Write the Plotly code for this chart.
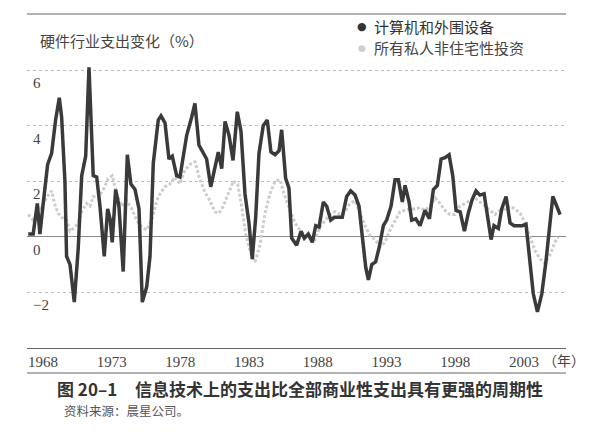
import plotly.graph_objects as go

# 计算机和外围设备 (year, % change)
hw_years = [1966.93, 1967.29, 1967.59, 1967.78, 1968.02, 1968.34, 1968.63, 1968.92, 1969.19, 1969.36,
            1969.60, 1969.72, 1969.97, 1970.28, 1970.57, 1970.82, 1971.11, 1971.35, 1971.66, 1971.91,
            1972.15, 1972.46, 1972.71, 1972.90, 1973.04, 1973.29, 1973.53, 1973.84, 1974.14, 1974.40,
            1974.70, 1974.99, 1975.23, 1975.55, 1975.79, 1976.03, 1976.39, 1976.59, 1976.88, 1977.17,
            1977.41, 1977.73, 1977.97, 1978.46, 1978.82, 1979.06, 1979.35, 1979.67, 1979.91, 1980.21,
            1980.47, 1980.76, 1981.01, 1981.25, 1981.54, 1981.83, 1982.14, 1982.41, 1982.70, 1982.99,
            1983.23, 1983.48, 1983.72, 1984.03, 1984.32, 1984.59, 1984.89, 1985.18, 1985.37, 1985.66,
            1985.90, 1986.10, 1986.46, 1986.78, 1987.02, 1987.31, 1987.60, 1987.85, 1988.09, 1988.40,
            1988.65, 1988.94, 1989.20, 1989.49, 1989.78, 1990.10, 1990.39, 1990.71, 1991.00, 1991.24,
            1991.49, 1991.68, 1991.93, 1992.21, 1992.48, 1992.77, 1993.01, 1993.33, 1993.62, 1993.86,
            1994.15, 1994.35, 1994.64, 1994.83, 1995.13, 1995.44, 1995.80, 1996.12, 1996.41, 1996.70,
            1996.97, 1997.26, 1997.55, 1997.82, 1998.06, 1998.36, 1998.67, 1998.95, 1999.24, 1999.51,
            1999.80, 2000.10, 2000.37, 2000.61, 2000.82, 2001.14, 2001.38, 2001.70, 2001.99, 2002.28,
            2002.59, 2002.88, 2003.15, 2003.44, 2003.68, 2003.98, 2004.30, 2004.61, 2004.85, 2005.10,
            2005.39, 2005.63]
hw_change = [0.1, 0.1, 1.2, 0.1, 1.2, 2.6, 3.0, 4.2, 5.0, 4.3,
             2.0, -0.7, -1.0, -2.35, -0.4, 2.2, 2.9, 6.1, 2.2, 2.15,
             1.1, -0.7, 1.0, 0.6, -0.2, 1.7, 1.1, -1.25, 2.95, 1.9,
             1.7, 1.0, -2.35, -1.8, -0.7, 2.65, 4.2, 4.35, 4.1, 2.8,
             2.9, 2.2, 2.15, 3.65, 4.3, 4.8, 3.3, 3.0, 2.8, 1.8,
             2.35, 3.05, 2.45, 4.15, 3.65, 2.75, 4.5, 3.8, 1.55, 0.5,
             -0.8, 0.7, 3.0, 4.0, 4.2, 3.05, 2.95, 3.1, 3.85, 2.1,
             1.75, -0.05, -0.3, 0.2, -0.05, 0.1, -0.2, 0.4, 0.35, 1.25,
             1.1, 0.6, 0.7, 0.7, 0.7, 1.45, 1.65, 1.5, 1.1, 0.0,
             -1.1, -1.55, -1.0, -0.9, -0.35, 0.4, 0.6, 1.1, 2.05, 2.05,
             1.25, 1.85, 1.25, 0.6, 0.65, 0.4, 0.95, 0.65, 1.7, 1.85,
             2.8, 2.85, 2.95, 2.2, 0.95, 0.9, 0.2, 0.85, 1.35, 1.65,
             1.5, 1.55, 0.7, -0.1, 0.4, 0.3, 1.0, 1.45, 0.5, 0.4,
             0.4, 0.4, 0.45, -0.85, -2.05, -2.7, -2.05, -0.85, 0.25, 1.45,
             1.1, 0.8]

# 所有私人非住宅性投资
inv_years = [1966.93, 1967.29, 1967.66, 1968.02, 1968.39, 1968.63, 1968.87, 1969.11, 1969.36, 1969.72,
             1969.97, 1970.21, 1970.57, 1970.86, 1971.18, 1971.42, 1971.66, 1972.02, 1972.39, 1972.75,
             1973.04, 1973.36, 1973.73, 1974.09, 1974.46, 1974.82, 1975.18, 1975.55, 1975.91, 1976.28,
             1976.52, 1976.88, 1977.24, 1977.61, 1977.97, 1978.33, 1978.70, 1979.06, 1979.43, 1979.79,
             1980.15, 1980.52, 1980.81, 1981.12, 1981.49, 1981.85, 1982.17, 1982.46, 1982.75, 1983.07,
             1983.43, 1983.79, 1984.16, 1984.52, 1984.89, 1985.25, 1985.61, 1985.98, 1986.34, 1986.70,
             1987.07, 1987.43, 1987.80, 1988.16, 1988.53, 1988.89, 1989.25, 1989.62, 1989.98, 1990.34,
             1990.71, 1991.08, 1991.43, 1991.80, 1992.16, 1992.53, 1992.89, 1993.26, 1993.62, 1993.98,
             1994.35, 1994.71, 1995.07, 1995.44, 1995.80, 1996.17, 1996.53, 1996.89, 1997.26, 1997.62,
             1997.98, 1998.35, 1998.71, 1999.08, 1999.44, 1999.80, 2000.17, 2000.53, 2000.89, 2001.26,
             2001.62, 2001.99, 2002.35, 2002.72, 2003.08, 2003.44, 2003.81, 2004.17, 2004.53, 2004.89,
             2005.25, 2005.49]
inv_change = [0.8, 0.6, 0.9, 1.2, 1.5, 1.65, 1.15, 0.85, 0.7, 0.6,
              0.2, 0.3, 0.5, 0.95, 1.2, 1.1, 1.45, 1.4, 1.7, 2.1,
              2.2, 1.55, 1.1, 1.3, 1.0, 0.6, 0.35, 0.25, 0.6, 1.3,
              1.55, 1.8, 1.9, 2.15, 1.9, 2.4, 2.6, 2.7, 2.05, 1.6,
              1.3, 0.9, 0.85, 1.1, 1.55, 2.0, 1.9, 1.1, 0.1, -0.5,
              -0.9, -0.3, 0.85, 1.55, 2.0, 2.05, 1.45, 1.0, 0.5, 0.25,
              0.0, -0.05, -0.1, 0.35, 0.6, 0.8, 0.9, 0.8, 0.9, 1.2,
              1.3, 0.85, 0.4, 0.05, -0.1, -0.35, -0.2, 0.25, 0.6, 0.9,
              0.95, 1.0, 1.0, 1.05, 0.95, 1.1, 1.4, 1.2, 0.95, 0.8,
              0.8, 1.1, 1.2, 1.3, 1.4, 1.25, 1.1, 0.95, 0.8, 0.95,
              1.0, 1.1, 1.0, 0.85, 0.5, 0.0, -0.5, -0.8, -0.95, -0.65,
              -0.2, 0.0]

x_ticks = [1968, 1973, 1978, 1983, 1988, 1993, 1998, 2003]
x_labels = ["1968", "1973", "1978", "1983", "1988", "1993", "1998", "2003"]
y_ticks = [-2, 0, 2, 4, 6]
y_labels = ["−2", "0", "2", "4", "6"]

serif = "Liberation Serif, Noto Sans CJK SC"
cjk = "Noto Sans CJK SC"

fig = go.Figure()
fig.add_trace(go.Scatter(x=inv_years, y=inv_change, mode="lines",
                         line=dict(color="#cdcdcd", width=3, dash="3px,2px"),
                         showlegend=False))
fig.add_trace(go.Scatter(x=hw_years, y=hw_change, mode="lines",
                         line=dict(color="#3a3a3a", width=3.5),
                         showlegend=False))

fig.update_layout(
    width=609, height=436,
    margin=dict(l=27, r=43, t=60, b=88),
    paper_bgcolor="white", plot_bgcolor="white",
    xaxis=dict(range=[1966.84, 2006.06], tickvals=x_ticks, ticktext=x_labels,
               showgrid=False, zeroline=False, showline=True, linecolor="#666",
               linewidth=1.2, ticks="", tickfont=dict(family=serif, size=15, color="#444")),
    yaxis=dict(range=[-4.0, 6.36], tickvals=y_ticks, showticklabels=False,
               showgrid=True, gridcolor="#bdbdbd", griddash="dot", gridwidth=1,
               zeroline=True, zerolinecolor="#888", zerolinewidth=1, ticks=""),
)

# y labels sit just under their gridlines, inside the plot
for v, lab in zip(y_ticks, y_labels):
    fig.add_annotation(text=lab, xref="paper", yref="y", x=0.008, y=v, yshift=-13,
                       xanchor="left", yanchor="middle", showarrow=False,
                       font=dict(family=serif, size=15, color="#444"))

notes = [
    dict(text="硬件行业支出变化（%）", x=0.02, y=1.069, size=15, color="#444"),
    dict(text="计算机和外围设备", x=0.64, y=1.118, size=15, color="#333"),
    dict(text="所有私人非住宅性投资", x=0.64, y=1.0417, size=15, color="#444"),
    dict(text="<b>图 20–1</b>", x=0.052, y=-0.141, size=17, color="#333"),
    dict(text="<b>信息技术上的支出比全部商业性支出具有更强的周期性</b>", x=0.1967, y=-0.141, size=17, color="#333"),
    dict(text="资料来源：晨星公司。", x=0.065, y=-0.2153, size=12.5, color="#555"),
]
for n in notes:
    fig.add_annotation(text=n["text"], xref="paper", yref="paper", x=n["x"], y=n["y"],
                       xanchor="left", yanchor="middle", showarrow=False,
                       font=dict(family=cjk, size=n["size"], color=n["color"]))

# legend dots
fig.add_annotation(text="●", xref="paper", yref="paper", x=0.6215, y=1.118, showarrow=False,
                   xanchor="center", yanchor="middle", font=dict(family="DejaVu Sans", size=11, color="#333"))
fig.add_annotation(text="●", xref="paper", yref="paper", x=0.6215, y=1.0417, showarrow=False,
                   xanchor="center", yanchor="middle", font=dict(family="DejaVu Sans", size=9, color="#cfcfcf"))

fig.add_annotation(text="（年）", xref="x", yref="paper", x=2004.25, y=-0.04, showarrow=False,
                   xanchor="left", yanchor="middle", font=dict(family=cjk, size=14, color="#444"))

# rules above and below the chart
for yy in [1.1597, -0.0868]:
    fig.add_shape(type="line", xref="paper", yref="paper", x0=0, x1=1, y0=yy, y1=yy,
                  line=dict(color="#666", width=1.2))

fig.write_html("out.html", config={"displayModeBar": False},
               post_script="document.body.style.margin='0';")
